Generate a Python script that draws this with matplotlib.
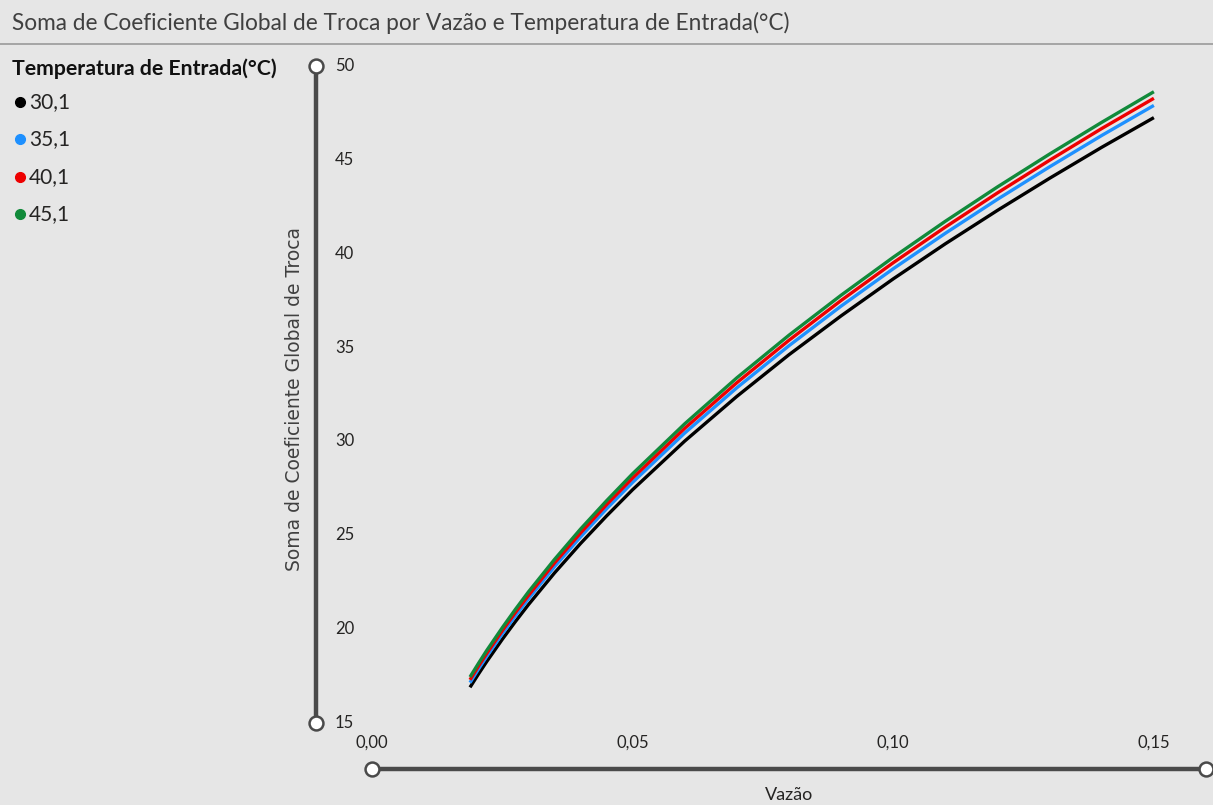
import matplotlib

matplotlib.use("Agg")
import matplotlib.pyplot as plt
from matplotlib.transforms import blended_transform_factory

# Vazão (flow) sample points and summed global heat-transfer coefficient per inlet temperature
vazao = [0.0188, 0.0205, 0.022, 0.025, 0.0275, 0.03, 0.035, 0.04, 0.045,
         0.05, 0.06, 0.07, 0.08, 0.09, 0.10, 0.11, 0.12, 0.13, 0.14, 0.15]
coef_30_1 = [16.90, 17.64, 18.27, 19.46, 20.40, 21.30, 22.99, 24.56, 26.03,
             27.43, 30.02, 32.40, 34.62, 36.69, 38.66, 40.53, 42.31, 44.02, 45.67, 47.25]
coef_35_1 = [17.15, 17.90, 18.54, 19.75, 20.70, 21.61, 23.32, 24.91, 26.41,
             27.82, 30.45, 32.86, 35.10, 37.21, 39.20, 41.09, 42.90, 44.63, 46.30, 47.90]
coef_40_1 = [17.30, 18.06, 18.70, 19.92, 20.88, 21.79, 23.52, 25.12, 26.63,
             28.05, 30.70, 33.13, 35.39, 37.51, 39.52, 41.42, 43.24, 44.98, 46.67, 48.28]
coef_45_1 = [17.45, 18.21, 18.86, 20.08, 21.05, 21.98, 23.71, 25.33, 26.84,
             28.28, 30.94, 33.39, 35.66, 37.79, 39.81, 41.73, 43.56, 45.31, 47.00, 48.63]

temperaturas = ["30,1", "35,1", "40,1", "45,1"]
series = [coef_30_1, coef_35_1, coef_40_1, coef_45_1]
colors = ["#000000", "#1e90ff", "#ee0000", "#118a3a"]

x_ticks = [0.00, 0.05, 0.10, 0.15]
y_ticks = [15, 20, 25, 30, 35, 40, 45, 50]

BG = "#e6e6e6"
SLIDER = "#4a4a4a"
TEXT = "#252423"

W, H = 1213, 805
fig = plt.figure(figsize=(W / 100, H / 100), dpi=100, facecolor=BG)

# plot area in pixel coordinates
left, right, top, bottom = 372, 1206, 66, 723
ax = fig.add_axes([left / W, 1 - bottom / H, (right - left) / W, (bottom - top) / H])
ax.set_facecolor(BG)
ax.set_xlim(0, 0.16)
ax.set_ylim(15, 50)
for s in ax.spines.values():
    s.set_visible(False)
ax.set_xticks([])
ax.set_yticks([])

for vals, c in zip(series, colors):
    ax.plot(vazao, vals, color=c, lw=2.4, solid_capstyle="butt",
            solid_joinstyle="round", zorder=3)

ax_w = right - left
ax_h = bottom - top

# vertical slider-style axis
yx = (316 - left) / ax_w
ax.plot([yx, yx], [0, 1], transform=ax.transAxes, color=SLIDER, lw=3.2,
        clip_on=False, zorder=2)
ax.plot([yx, yx], [0, 1], transform=ax.transAxes, ls="none", marker="o",
        ms=10, mfc="white", mec=SLIDER, mew=1.8, clip_on=False, zorder=4)

# horizontal slider-style axis
xy = (bottom - 769) / ax_h
ax.plot([0, 1], [xy, xy], transform=ax.transAxes, color=SLIDER, lw=3.2,
        clip_on=False, zorder=2)
ax.plot([0, 1], [xy, xy], transform=ax.transAxes, ls="none", marker="o",
        ms=10, mfc="white", mec=SLIDER, mew=1.8, clip_on=False, zorder=4)

tick_font = dict(family="Lato", fontsize=12, color=TEXT)
ytr = blended_transform_factory(ax.transAxes, ax.transData)
for v in y_ticks:
    ax.text((335 - left) / ax_w, v, f"{v}", transform=ytr, ha="left",
            va="center", **tick_font)
xtr = blended_transform_factory(ax.transData, ax.transAxes)
for v in x_ticks:
    ax.text(v, (bottom - 743) / ax_h, f"{v:.2f}".replace(".", ","),
            transform=xtr, ha="center", va="center", **tick_font)

fig.text(789 / W, 1 - 795 / H, "Vazão", ha="center", va="center",
         family="Lato", fontsize=13, color=TEXT)
fig.text(295 / W, 1 - 399 / H, "Soma de Coeficiente Global de Troca",
         rotation=90, ha="center", va="center", family="DejaVu Sans",
         fontsize=13.5, color="#404040")

# title and separator
fig.text(12 / W, 1 - 23 / H,
         "Soma de Coeficiente Global de Troca por Vazão e Temperatura de Entrada(°C)",
         ha="left", va="center", family="Lato", fontsize=16.3, color="#404040")
fig.add_artist(plt.Line2D([0, 1], [1 - 44 / H, 1 - 44 / H], color="#9a9a9a", lw=1.2))

# legend
fig.text(12 / W, 1 - 69 / H, "Temperatura de Entrada(°C)", ha="left",
         va="center", family="Lato", fontweight="bold", fontsize=15.3, color="#111111")
for i, (lab, c) in enumerate(zip(temperaturas, colors)):
    yy = 1 - (102 + i * 37.3) / H
    fig.add_artist(plt.Line2D([20 / W], [yy], ls="none", marker="o", ms=7,
                              mfc=c, mec=c))
    fig.text(29 / W, yy, lab, ha="left", va="center", family="Lato",
             fontsize=15, color=TEXT)

fig.savefig("out.png", dpi=100, facecolor=BG)
